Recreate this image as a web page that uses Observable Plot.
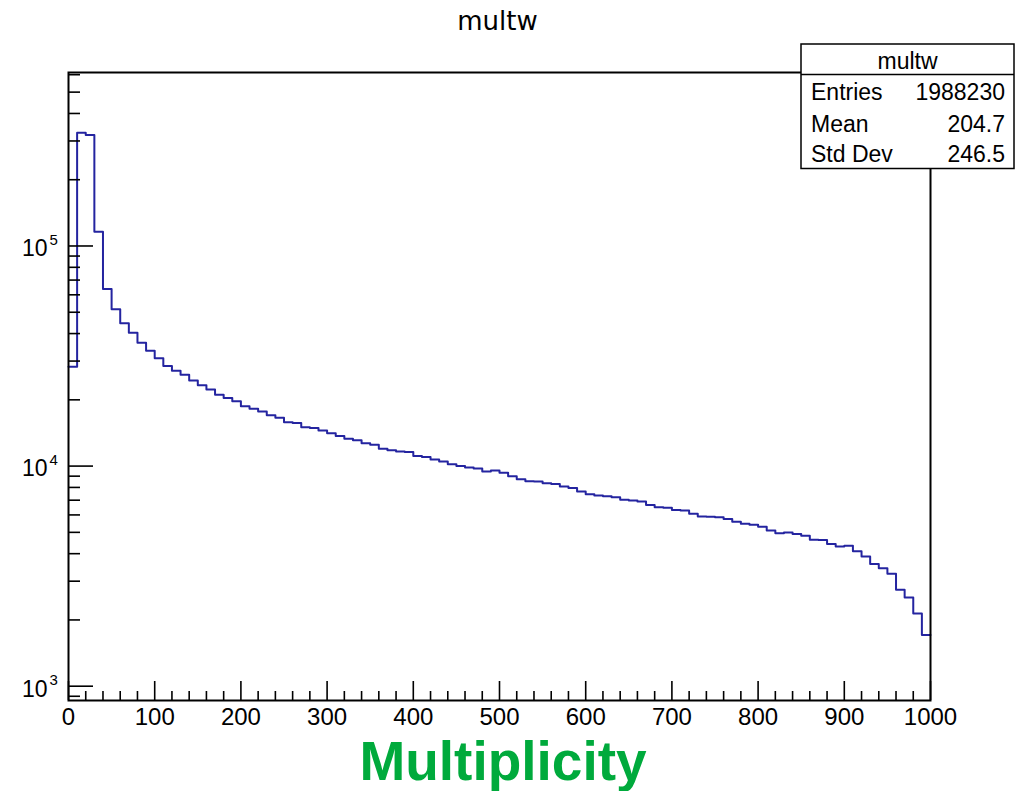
<!DOCTYPE html>
<html>
<head>
<meta charset="utf-8">
<script src="https://cdn.jsdelivr.net/npm/d3@7"></script>
<script src="https://cdn.jsdelivr.net/npm/@observablehq/plot@0.6"></script>
<style>
  body { margin: 0; background: #fff; }
  #chart { position: relative; width: 1015px; height: 791px; }
</style>
</head>
<body>
<div id="chart"></div>
<script>
// ---- data (bin width 10) ----
const binLow = [
  0,10,20,30,40,50,60,70,80,90,100,110,120,130,140,150,160,170,180,190,
  200,210,220,230,240,250,260,270,280,290,300,310,320,330,340,350,360,370,380,390,
  400,410,420,430,440,450,460,470,480,490,500,510,520,530,540,550,560,570,580,590,
  600,610,620,630,640,650,660,670,680,690,700,710,720,730,740,750,760,770,780,790,
  800,810,820,830,840,850,860,870,880,890,900,910,920,930,940,950,960,970,980,990
];
const binHigh = 1000;
const counts = [
  28300,327000,319000,116000,63700,51600,44600,40300,36300,33400,
  30900,28500,27100,26000,24500,23300,22300,21100,20400,19700,
  18700,18200,17700,17000,16600,15800,15700,15000,14900,14500,
  14100,13700,13300,13100,12700,12500,12000,11800,11650,11600,
  11100,11000,10700,10500,10200,10000,9860,9750,9450,9550,
  9320,8980,8720,8530,8500,8350,8300,8070,7960,7660,
  7450,7350,7290,7210,7040,6970,6900,6660,6500,6460,
  6320,6280,6080,5900,5880,5850,5750,5590,5470,5410,
  5300,5100,4950,4990,4920,4830,4630,4610,4430,4310,
  4350,4100,3880,3590,3430,3240,2740,2530,2140,1710
];
const histTitle = "multw";
const xTitle = "Multiplicity";
const statsLabels = ["Entries", "Mean", "Std Dev"];
const statsValues = ["1988230", "204.7", "246.5"];

const xMajorTicks = [0,100,200,300,400,500,600,700,800,900,1000];
const xMinorTicks = [20,40,60,80,120,140,160,180,220,240,260,280,320,340,360,380,
  420,440,460,480,520,540,560,580,620,640,660,680,720,740,760,780,
  820,840,860,880,920,940,960,980];
const yMajorTicks = [1000, 10000, 100000];
const yMinorTicks = [900, 2000,3000,4000,5000,6000,7000,8000,9000,
  20000,30000,40000,50000,60000,70000,80000,90000,
  200000,300000,400000,500000,600000];

const xDomain = [0, 1000];
const yDomain = [861, 614000];

// ---- layout ----
const W = 1015, H = 791;
const mL = 68, mR = 85, mT = 72, mB = 91;
const frameW = W - mL - mR, frameH = H - mT - mB;

const points = binLow.map((x, i) => ({x, y: counts[i]}));
points.push({x: binHigh, y: counts[counts.length - 1]});

const chart = Plot.plot({
  width: W, height: H,
  marginLeft: mL, marginRight: mR, marginTop: mT, marginBottom: mB,
  style: {fontFamily: "'Liberation Sans', Arial, sans-serif", background: "white", color: "black"},
  x: {domain: xDomain, axis: null},
  y: {type: "log", domain: yDomain, axis: null},
  marks: [
    Plot.line(points, {x: "x", y: "y", curve: "step-after", stroke: "#2424a0", strokeWidth: 2}),
    Plot.tickX(xMajorTicks, {x: d => d, insetTop: frameH - 19, stroke: "black", strokeWidth: 1.6}),
    Plot.tickX(xMinorTicks, {x: d => d, insetTop: frameH - 9, stroke: "black", strokeWidth: 1.6}),
    Plot.tickY(yMajorTicks, {y: d => d, insetRight: frameW - 25, stroke: "black", strokeWidth: 1.6}),
    Plot.tickY(yMinorTicks, {y: d => d, insetRight: frameW - 12, stroke: "black", strokeWidth: 1.6}),
    Plot.frame({stroke: "black", strokeWidth: 2}),
    Plot.text(xMajorTicks, {x: d => d, y: () => yDomain[0], text: d => String(d),
      dy: 17, lineAnchor: "middle", fontSize: 24, fill: "black"}),
    Plot.text(yMajorTicks, {x: () => xDomain[0], y: d => d, text: () => "10",
      dx: -21, dy: 3, textAnchor: "end", lineAnchor: "middle", fontSize: 23, fill: "black"}),
    Plot.text(yMajorTicks, {x: () => xDomain[0], y: d => d, text: d => String(Math.round(Math.log10(d))),
      dx: -19, dy: -6, textAnchor: "start", lineAnchor: "middle", fontSize: 15, fill: "black"})
  ]
});

document.getElementById("chart").appendChild(chart);

// ---- annotations: title, stats box, axis title ----
const svg = d3.select(chart);
svg.append("text")
  .attr("x", 497.5).attr("y", 30)
  .attr("text-anchor", "middle")
  .style("font-family", "'DejaVu Sans', sans-serif")
  .style("font-size", "26px")
  .attr("fill", "black")
  .text(histTitle);

const box = svg.append("g")
  .style("font-family", "'Liberation Sans', Arial, sans-serif")
  .style("font-size", "23px");
box.append("rect").attr("x", 801).attr("y", 44).attr("width", 213).attr("height", 124.5)
  .attr("fill", "white").attr("stroke", "black").attr("stroke-width", 1.5);
box.append("line").attr("x1", 801).attr("x2", 1014).attr("y1", 74.5).attr("y2", 74.5)
  .attr("stroke", "black").attr("stroke-width", 1.5);
box.append("text").attr("x", 907.5).attr("y", 69).attr("text-anchor", "middle")
  .attr("fill", "black").text(histTitle);
const rowBaselines = [100, 131.5, 162];
statsLabels.forEach((lab, i) => {
  box.append("text").attr("x", 811).attr("y", rowBaselines[i])
    .attr("text-anchor", "start").attr("fill", "black").text(lab);
  box.append("text").attr("x", 1005).attr("y", rowBaselines[i])
    .attr("text-anchor", "end").attr("fill", "black").text(statsValues[i]);
});

svg.append("text")
  .attr("x", 503).attr("y", 780)
  .attr("text-anchor", "middle")
  .style("font-family", "'Liberation Sans', Arial, sans-serif")
  .style("font-size", "55px")
  .style("font-weight", "bold")
  .attr("fill", "#00aa3c")
  .text(xTitle);
</script>
</body>
</html>
